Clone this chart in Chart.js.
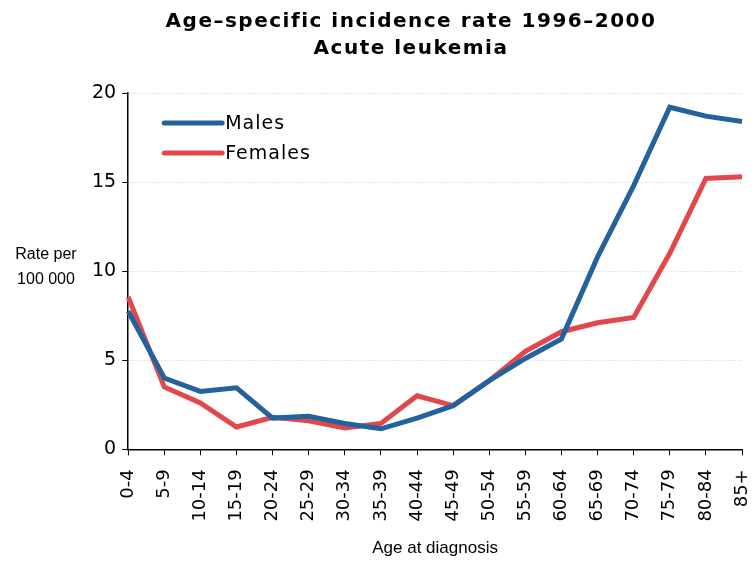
<!DOCTYPE html>
<html>
<head>
<meta charset="utf-8">
<script src="https://cdn.jsdelivr.net/npm/chart.js@4.4.1/dist/chart.umd.min.js"></script>
<style>
  html, body { margin: 0; padding: 0; background: #fff; }
  #wrap { width: 756px; height: 563px; }
</style>
</head>
<body>
<div id="wrap"><canvas id="c" width="756" height="563"></canvas></div>
<script>
// age groups on the x axis
const ageGroups = ['0-4', '5-9', '10-14', '15-19', '20-24', '25-29', '30-34', '35-39', '40-44',
  '45-49', '50-54', '55-59', '60-64', '65-69', '70-74', '75-79', '80-84', '85+'];

// rate per 100 000
const males   = [7.75, 4.0, 3.25, 3.45, 1.75, 1.85, 1.45, 1.15, 1.75, 2.45, 3.85, 5.1, 6.2, 10.8, 14.8, 19.2, 18.7, 18.4];
const females = [8.55, 3.5, 2.6, 1.25, 1.8, 1.6, 1.2, 1.45, 3.0, 2.45, 3.85, 5.5, 6.6, 7.1, 7.4, 11.0, 15.2, 15.3];

const yTicks = [0, 5, 10, 15, 20];

const titleLines = ['Age\u2013specific incidence rate 1996\u20132000', 'Acute leukemia'];
const yLabel = ['Rate per', '100 000'];
const xLabel = 'Age at diagnosis';

const maleColor = '#24629c';
const femaleColor = '#e2474b';

// two-line bold title, drawn a bit wider than the stock title box allows
const titlePlugin = {
  id: 'wideTitle',
  afterDraw(chart) {
    const ctx = chart.ctx;
    ctx.save();
    ctx.fillStyle = '#000';
    ctx.font = 'bold 20px "DejaVu Sans", sans-serif';
    ctx.letterSpacing = '1.5px';
    ctx.textAlign = 'center';
    ctx.textBaseline = 'alphabetic';
    ctx.fillText(titleLines[0], 411, 27);
    ctx.fillText(titleLines[1], 411, 54);
    ctx.restore();
  }
};

// horizontal y axis label, left of the tick numbers
const yLabelPlugin = {
  id: 'yLabel',
  afterDraw(chart) {
    const ctx = chart.ctx;
    const mid = chart.scales.y.getPixelForValue(10.25);
    ctx.save();
    ctx.fillStyle = '#000';
    ctx.font = '16px "Liberation Sans Narrow", "Liberation Sans", sans-serif';
    ctx.textAlign = 'center';
    ctx.textBaseline = 'middle';
    ctx.fillText(yLabel[0], 46, mid - 12.5);
    ctx.fillText(yLabel[1], 46, mid + 12.5);
    ctx.restore();
  }
};

// legend inside the plot area, top left
const legendPlugin = {
  id: 'innerLegend',
  afterDraw(chart) {
    const ctx = chart.ctx;
    const area = chart.chartArea;
    ctx.save();
    ctx.font = '19px "DejaVu Sans", sans-serif';
    ctx.letterSpacing = '1px';
    ctx.textBaseline = 'middle';
    chart.data.datasets.forEach((ds, i) => {
      const ly = area.top + 30 + i * 30;
      const lx = area.left + 36;
      ctx.strokeStyle = ds.borderColor;
      ctx.lineWidth = 5;
      ctx.lineCap = 'round';
      ctx.beginPath();
      ctx.moveTo(lx, ly);
      ctx.lineTo(lx + 58, ly);
      ctx.stroke();
      ctx.fillStyle = '#000';
      ctx.fillText(ds.label, lx + 61, ly + 1);
    });
    ctx.restore();
  }
};

new Chart(document.getElementById('c'), {
  type: 'line',
  data: {
    labels: ageGroups,
    datasets: [
      { label: 'Males', data: males, borderColor: maleColor, backgroundColor: maleColor,
        borderWidth: 5, pointRadius: 0, tension: 0 },
      { label: 'Females', data: females, borderColor: femaleColor, backgroundColor: femaleColor,
        borderWidth: 5, pointRadius: 0, tension: 0 }
    ]
  },
  options: {
    responsive: false,
    animation: false,
    layout: { padding: { left: 86, right: 14, top: 93, bottom: 4 } },
    plugins: {
      legend: { display: false },
      tooltip: { enabled: false },
      title: { display: false }
    },
    scales: {
      x: {
        offset: false,
        // the rotated last label does not need the extra room chart.js keeps for it
        afterFit: (scale) => { scale.paddingRight = 4; },
        grid: { drawOnChartArea: false, tickLength: 6, tickColor: '#000', tickWidth: 1 },
        border: { color: '#000', width: 1.5 },
        ticks: { color: '#000', maxRotation: 90, minRotation: 90, autoSkip: false, padding: 14,
          font: { family: '"DejaVu Sans", sans-serif', size: 18 } },
        title: { display: true, text: xLabel, color: '#000', padding: { top: 3, bottom: 0 },
          font: { family: '"Liberation Sans Narrow", "Liberation Sans", sans-serif', size: 17 } }
      },
      y: {
        min: 0,
        max: 20,
        afterBuildTicks: (axis) => { axis.ticks = yTicks.map(v => ({ value: v })); },
        grid: { color: '#b4d2e2', lineWidth: 1, tickLength: 6, tickColor: '#000', tickWidth: 1,
          tickBorderDash: [] },
        border: { color: '#000', width: 1.5, dash: [1, 2] },
        ticks: { color: '#000', padding: 6,
          font: { family: '"DejaVu Sans", sans-serif', size: 19 } }
      }
    }
  },
  plugins: [titlePlugin, yLabelPlugin, legendPlugin]
});
</script>
</body>
</html>
